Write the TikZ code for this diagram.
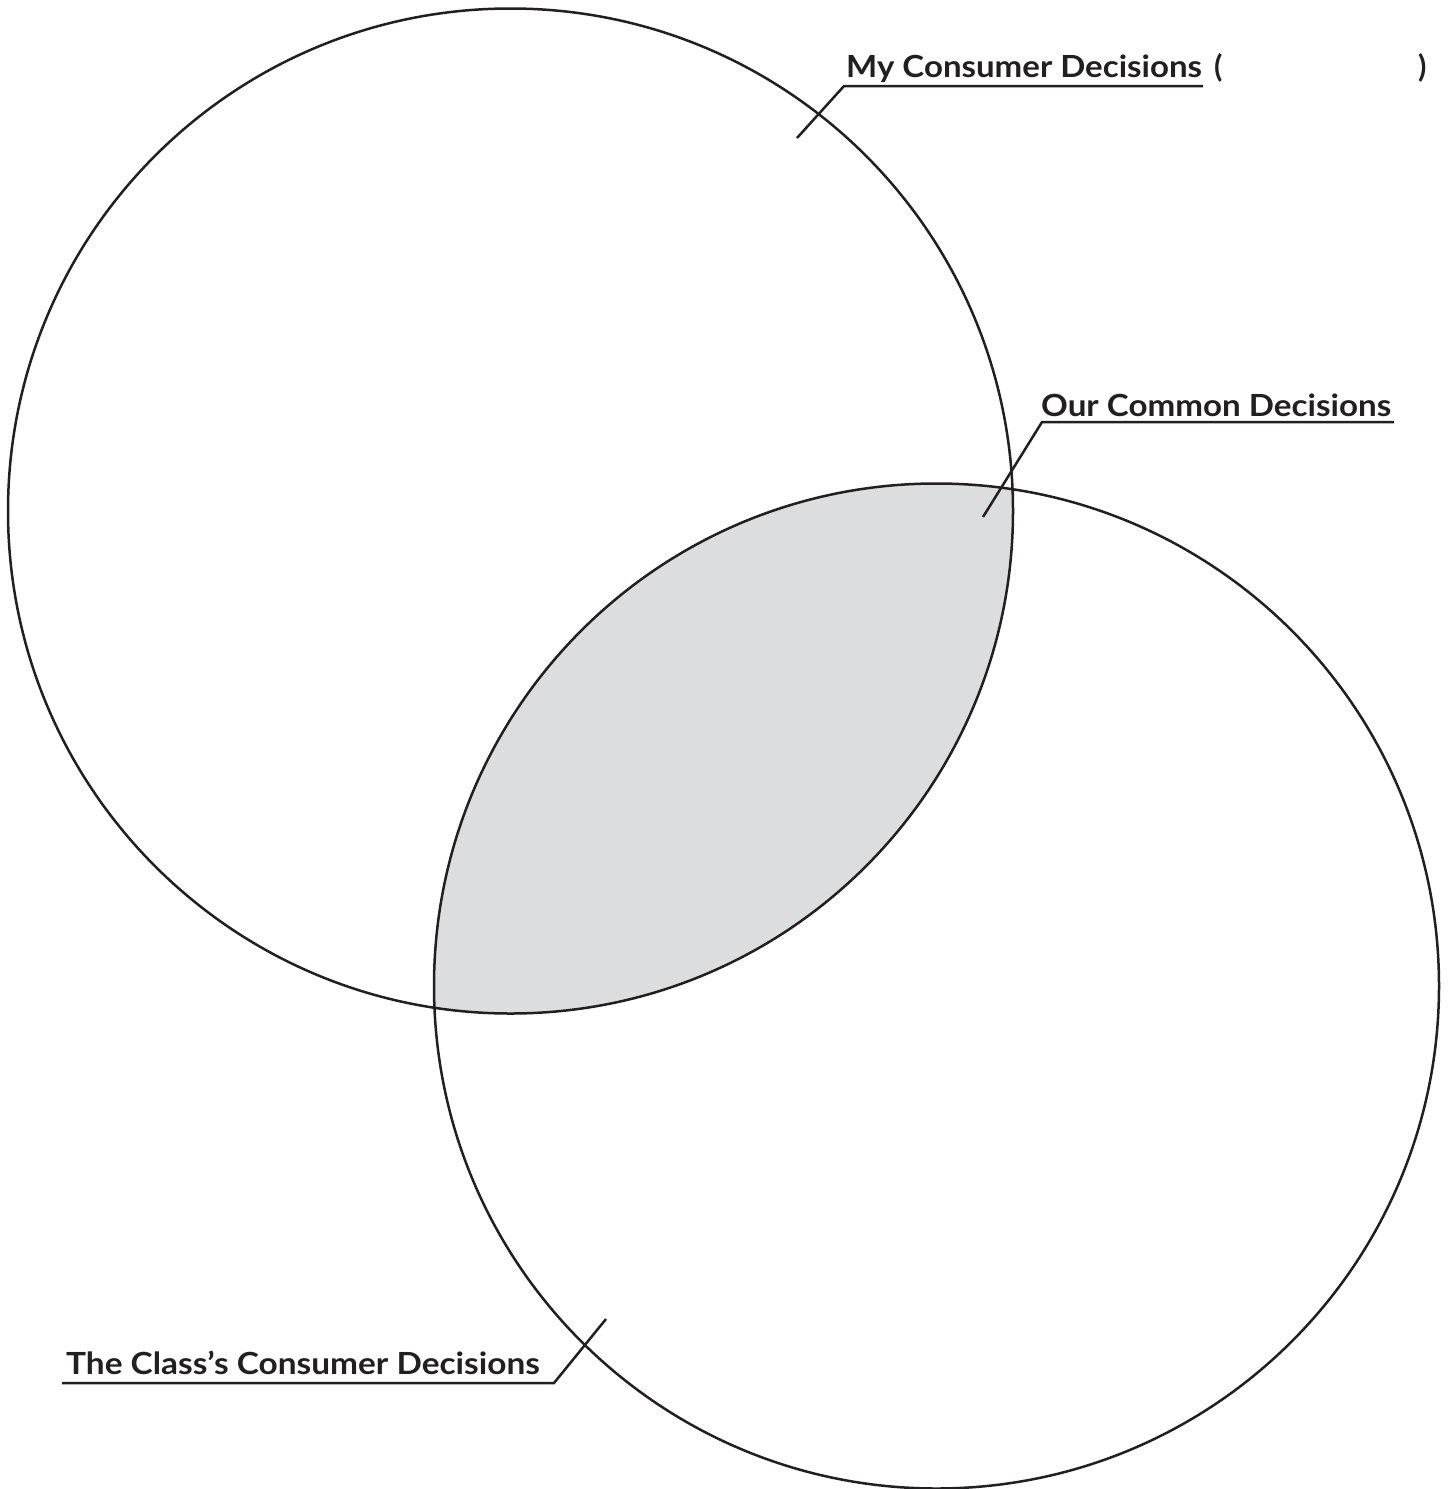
\documentclass[tikz,border=0pt]{standalone}
\usepackage{fontspec}
\setmainfont{Lato}
\definecolor{ink}{HTML}{231F20}
\definecolor{lens}{HTML}{DCDDDF}
\newcommand{\widetext}[2]{\scalebox{#1}[1]{#2}}
\tikzset{
  ring/.style={draw=ink, line width=2.5pt},
  leader/.style={draw=ink, line width=2.5pt, line join=miter},
  lbl/.style={anchor=base west, inner sep=0pt, text=ink, font=\fontsize{30.5}{36}\selectfont\bfseries}
}
\begin{document}
\begin{tikzpicture}[x=1pt,y=-1pt]
\useasboundingbox (0,0) rectangle (1450,1489);
\fill[white] (0,0) rectangle (1450,1489);
\coordinate (c1) at (510.5,511);
\coordinate (c2) at (936.5,986);
\begin{scope}
  \clip (c1) circle[radius=502.5];
  \fill[lens] (c2) circle[radius=502.5];
\end{scope}
\draw[ring] (c1) circle[radius=502.5];
\draw[ring] (c2) circle[radius=502.5];

% labels
\node[lbl] (my) at (846,77) {\widetext{1.082}{My Consumer Decisions}};
\node[lbl] (lp) at (1214,77) {(};
\node[lbl] (rp) at (1418,77) {)};
\node[lbl] (our) at (1041,416) {\widetext{1.087}{Our Common Decisions}};
\node[lbl] (cls) at (66,1374) {\widetext{1.095}{The Class’s Consumer Decisions}};

% leaders
\coordinate (myT) at (797,138);
\coordinate (myA) at (844,86);
\coordinate (myB) at (1203,86);
\draw[leader] (myT) -- (myA) -- (myB);
\coordinate (ourT) at (983,517);
\coordinate (ourA) at (1042,422);
\coordinate (ourB) at (1394,422);
\draw[leader] (ourT) -- (ourA) -- (ourB);
\coordinate (clsT) at (606,1319);
\coordinate (clsA) at (554,1383);
\coordinate (clsB) at (62,1383);
\draw[leader] (clsT) -- (clsA) -- (clsB);
\end{tikzpicture}
\end{document}
